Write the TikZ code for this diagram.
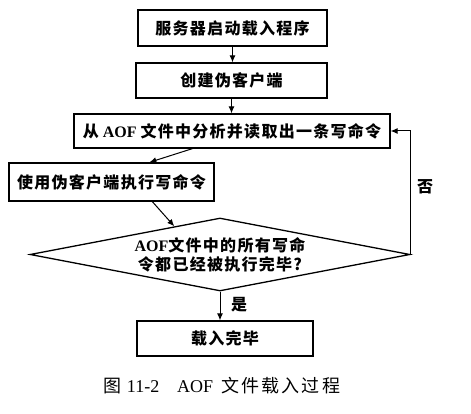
\documentclass[tikz,border=0pt]{standalone}
\usepackage{fontspec}
\setmainfont{Liberation Serif}
\newfontfamily\cjk{Noto Sans CJK SC}[LetterSpace=8]
\newfontfamily\cjkcap{Noto Sans CJK SC}[LetterSpace=12]
\usetikzlibrary{shapes.geometric,arrows.meta,calc}
\tikzset{
  boxnode/.style={draw, line width=1.3pt, inner sep=0pt, font=\fontsize{16}{18}\selectfont\bfseries},
  decide/.style={draw, diamond, line width=1.3pt, inner sep=0pt, aspect=5.2, minimum width=380pt, minimum height=73pt, align=center, font=\fontsize{16}{19}\selectfont\bfseries},
  arr/.style={line width=1pt, -{Latex[length=7pt,width=6pt]}},
  lbl/.style={font=\fontsize{16}{18}\selectfont\bfseries\cjk, inner sep=0pt}
}
\begin{document}
\begin{tikzpicture}[x=1pt,y=-1pt]
\useasboundingbox (0,0) rectangle (471,414);
\fill[white] (0,0) rectangle (471,414);
\node[boxnode, minimum width=189pt, minimum height=36pt] (b1) at (232.5,28) {\cjk 服务器启动载入程序};
\node[boxnode, minimum width=191pt, minimum height=35pt] (b2) at (231.5,80.5) {\cjk 创建伪客户端};
\node[boxnode, minimum width=316pt, minimum height=34pt] (b3) at (232,131) {{\cjk 从} AOF {\cjk 文件中分析并读取出一条写命令}};
\node[boxnode, minimum width=205pt, minimum height=38pt] (b4) at (111.5,182) {\cjk 使用伪客户端执行写命令};
\node[decide] (d) at (220,254.5) {AOF{\cjk 文件中的所有写命}\\{\cjk 令都已经被执行完毕?}};
\node[boxnode, minimum width=176pt, minimum height=35pt] (b5) at (225,338.5) {\cjk 载入完毕};
\coordinate (b3out) at ($(b3.south west)+(119,0)$);
\coordinate (b4in) at ($(b4.north west)+(141,0)$);
\coordinate (b4out) at ($(b4.south west)+(144,0)$);
\coordinate (din) at ($(d.west)!0.76!(d.north)$);
\coordinate (loopx) at (410,0);
\draw[arr] (b1.south) -- (b1.south |- b2.north);
\draw[arr] (b2.south) -- (b2.south |- b3.north);
\draw[arr] (b3out) -- (b4in);
\draw[arr] (b4out) -- (din);
\draw[arr] (d.south) -- (d.south |- b5.north);
\draw[arr] (d.east) -- (loopx |- d.east) |- (b3.east);
\node[lbl] (no) at (425,187) {否};
\node[lbl] (yes) at (239,305) {是};
\node[inner sep=0pt, font=\fontsize{18}{20}\selectfont] (cap) at (222,386) {{\cjkcap 图}\hspace{5pt}11-2\hspace{18pt}AOF\hspace{8pt}{\cjkcap 文件载入过程}};
\end{tikzpicture}
\end{document}
